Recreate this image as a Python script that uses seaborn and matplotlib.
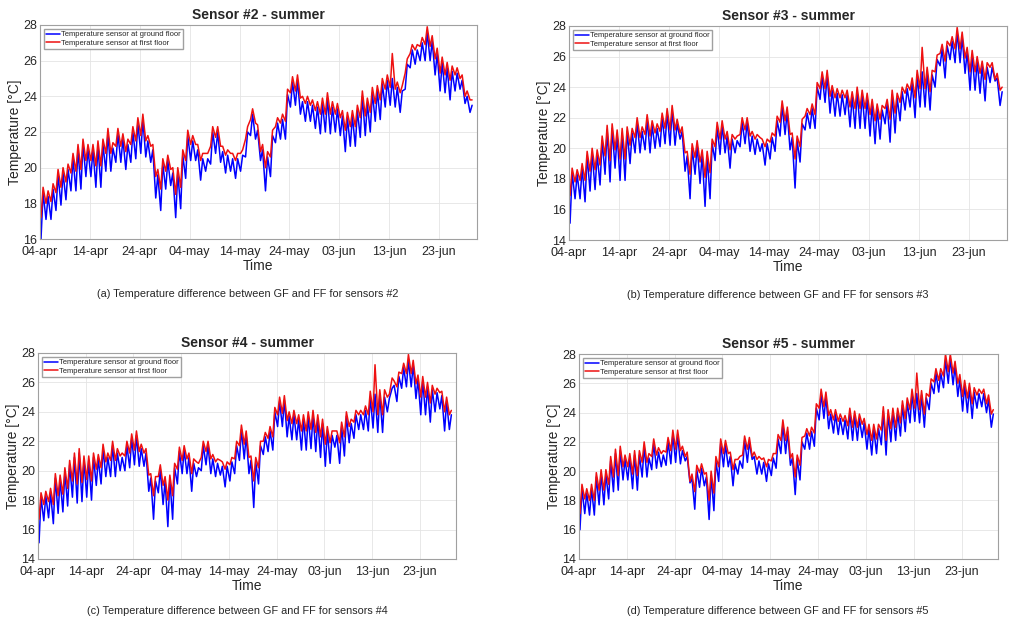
import pandas as pd
import matplotlib
matplotlib.use("Agg")
import matplotlib.pyplot as plt
import matplotlib.dates as mdates
import seaborn as sns

# INPUT VALUES
start_date = "2019-04-04"
tick_labels = ["04-apr", "14-apr", "24-apr", "04-may", "14-may", "24-may", "03-jun", "13-jun", "23-jun"]
series_names = ["Temperature sensor at ground floor", "Temperature sensor at first floor"]

# daily lows / highs, ground floor (gf) and first floor (ff)
s2_gf_lo = [16.0, 17.1, 17.1, 17.6, 17.9, 18.2, 18.7, 18.7, 18.8, 19.5,
            19.5, 18.9, 18.9, 19.8, 19.8, 20.3, 20.3, 19.9, 20.3, 20.5,
            20.8, 20.6, 20.3, 18.3, 17.6, 18.8, 19.0, 17.2, 17.7, 19.4,
            20.4, 20.4, 19.3, 19.8, 20.2, 20.8, 20.3, 19.7, 19.8, 19.4,
            19.8, 20.6, 21.8, 21.6, 20.4, 18.7, 19.5, 21.4, 21.6, 21.6,
            23.4, 23.5, 23.0, 22.6, 22.6, 22.2, 21.9, 22.0, 21.9, 22.0,
            21.8, 20.9, 21.2, 21.2, 21.7, 21.8, 22.0, 22.6, 22.7, 23.4,
            23.5, 23.4, 23.1, 24.4, 25.6, 25.8, 26.0, 26.0, 26.0, 25.2,
            24.3, 24.2, 23.8, 24.3, 24.4, 23.6, 23.1]
s2_gf_hi = [18.6, 18.4, 18.8, 19.6, 19.7, 19.9, 20.5, 21.0, 21.3, 21.0,
            21.0, 21.2, 21.3, 21.9, 21.1, 21.9, 21.6, 21.3, 22.0, 22.5,
            22.7, 21.5, 21.0, 19.6, 20.2, 20.4, 19.7, 19.7, 20.7, 21.8,
            21.5, 21.0, 20.5, 20.5, 22.0, 22.0, 20.9, 20.7, 20.5, 20.5,
            20.7, 22.0, 23.0, 22.1, 21.0, 20.6, 21.8, 22.5, 22.7, 24.1,
            24.8, 24.9, 23.7, 23.7, 23.5, 23.4, 23.6, 23.9, 23.4, 23.3,
            22.9, 22.8, 22.9, 23.2, 24.0, 23.6, 24.2, 24.3, 24.7, 24.9,
            25.0, 24.5, 24.3, 25.8, 26.6, 26.6, 27.0, 27.6, 27.1, 26.4,
            25.9, 25.6, 25.4, 25.3, 24.9, 24.0, 23.5]
s2_ff_lo = [17.2, 18.0, 18.1, 18.6, 18.9, 19.2, 19.7, 19.8, 19.9, 20.4,
            20.4, 20.1, 20.1, 20.8, 20.8, 21.2, 21.2, 20.9, 21.3, 21.5,
            21.8, 21.5, 21.2, 19.5, 18.8, 19.8, 19.9, 18.5, 18.9, 20.4,
            21.3, 21.3, 20.4, 20.8, 21.2, 21.7, 21.2, 20.7, 20.8, 20.4,
            20.8, 21.6, 22.7, 22.5, 20.9, 20.0, 20.6, 22.3, 22.5, 22.6,
            24.2, 24.3, 23.9, 23.6, 23.5, 23.2, 23.0, 23.0, 23.0, 23.0,
            22.8, 22.1, 22.3, 22.3, 22.8, 22.9, 23.1, 23.6, 23.8, 24.4,
            24.5, 24.4, 24.2, 25.3, 26.4, 26.6, 26.8, 26.9, 26.8, 26.1,
            25.3, 25.2, 24.9, 25.2, 25.0, 24.0, 23.8]
s2_ff_hi = [18.9, 18.7, 19.1, 19.9, 20.0, 20.2, 20.8, 21.3, 21.6, 21.3,
            21.3, 21.5, 21.6, 22.2, 21.4, 22.2, 21.9, 21.6, 22.3, 22.8,
            23.0, 21.8, 21.3, 19.9, 20.5, 20.7, 20.0, 20.0, 21.0, 22.1,
            21.8, 21.3, 20.8, 20.8, 22.3, 22.3, 21.2, 21.0, 20.8, 20.8,
            21.0, 22.3, 23.3, 22.4, 21.3, 20.9, 22.1, 22.8, 23.0, 24.4,
            25.1, 25.2, 24.0, 24.0, 23.8, 23.7, 23.9, 24.2, 23.7, 23.6,
            23.2, 23.1, 23.2, 23.5, 24.3, 23.9, 24.5, 24.6, 25.0, 25.2,
            26.4, 24.8, 24.6, 26.1, 26.9, 26.9, 27.3, 27.9, 27.4, 26.7,
            26.2, 25.9, 25.7, 25.6, 25.2, 24.3, 23.8]

s3_gf_lo = [15.1, 16.7, 16.7, 16.5, 17.2, 17.3, 17.6, 18.3, 17.8, 18.7,
            17.9, 17.9, 19.0, 19.7, 19.7, 19.9, 19.7, 20.0, 20.1, 20.3,
            20.2, 20.2, 20.6, 18.5, 16.7, 18.3, 17.7, 16.2, 16.7, 19.2,
            19.6, 19.7, 18.7, 19.7, 20.1, 20.3, 19.8, 19.6, 19.8, 18.9,
            19.3, 19.8, 20.8, 20.9, 19.9, 17.4, 19.1, 21.2, 21.3, 21.3,
            23.2, 23.0, 22.3, 22.1, 22.1, 22.2, 21.4, 21.3, 21.3, 21.3,
            20.8, 20.3, 20.6, 21.6, 20.4, 21.0, 21.8, 22.5, 22.7, 22.0,
            22.7, 22.7, 22.5, 24.0, 25.4, 24.6, 25.8, 25.6, 25.6, 24.9,
            23.8, 23.8, 23.6, 23.1, 24.3, 24.4, 22.8]
s3_gf_hi = [18.4, 18.3, 18.7, 19.5, 19.7, 19.6, 20.5, 21.2, 21.3, 20.9,
            21.0, 21.1, 21.0, 21.7, 21.1, 21.9, 21.5, 21.3, 22.0, 22.3,
            22.5, 21.6, 21.1, 19.5, 20.0, 20.2, 19.6, 19.5, 20.3, 21.4,
            21.5, 20.8, 20.6, 20.5, 21.7, 21.7, 20.8, 20.6, 20.3, 20.3,
            20.7, 21.8, 22.8, 22.4, 20.7, 20.5, 21.6, 22.3, 22.6, 24.0,
            24.7, 24.8, 23.8, 23.6, 23.5, 23.5, 23.4, 23.7, 23.5, 23.3,
            22.9, 22.6, 22.5, 22.9, 23.5, 23.3, 23.7, 23.9, 24.3, 24.8,
            25.0, 25.0, 24.8, 25.8, 26.5, 26.7, 27.0, 27.6, 27.3, 26.3,
            26.1, 25.7, 25.4, 25.3, 25.3, 24.6, 23.7]
s3_ff_lo = [16.9, 17.8, 17.9, 17.9, 18.5, 18.6, 18.9, 19.5, 19.2, 19.9,
            19.3, 19.3, 20.2, 20.7, 20.7, 20.9, 20.8, 21.0, 21.1, 21.3,
            21.2, 21.2, 21.0, 19.7, 18.3, 19.4, 19.1, 18.1, 18.4, 20.1,
            20.6, 20.6, 19.9, 20.6, 20.9, 21.2, 20.8, 20.6, 20.7, 20.1,
            20.4, 20.8, 21.7, 21.8, 20.9, 19.3, 20.1, 22.1, 22.2, 22.2,
            23.9, 23.9, 23.4, 23.3, 23.3, 23.3, 22.7, 22.6, 22.6, 22.6,
            22.2, 21.8, 21.9, 22.6, 21.9, 22.3, 23.0, 23.6, 23.8, 23.3,
            23.9, 23.9, 23.7, 25.0, 26.2, 25.7, 26.7, 26.5, 26.5, 25.9,
            25.0, 25.0, 24.9, 24.5, 25.3, 24.5, 23.8]
s3_ff_hi = [18.7, 18.6, 19.0, 19.8, 20.0, 19.9, 20.8, 21.5, 21.6, 21.2,
            21.3, 21.4, 21.3, 22.0, 21.4, 22.2, 21.8, 21.6, 22.3, 22.6,
            22.8, 21.9, 21.4, 19.8, 20.3, 20.5, 19.9, 19.8, 20.6, 21.7,
            21.8, 21.1, 20.9, 20.8, 22.0, 22.0, 21.1, 20.9, 20.6, 20.6,
            21.0, 22.1, 23.1, 22.7, 21.0, 20.8, 21.9, 22.6, 22.9, 24.3,
            25.0, 25.1, 24.1, 23.9, 23.8, 23.8, 23.7, 24.0, 23.8, 23.6,
            23.2, 22.9, 22.8, 23.2, 23.8, 23.6, 24.0, 24.2, 24.6, 25.1,
            26.6, 25.3, 25.1, 26.1, 26.8, 27.0, 27.3, 27.9, 27.6, 26.6,
            26.4, 26.0, 25.7, 25.6, 25.6, 24.9, 24.0]

s4_gf_lo = [15.1, 16.6, 16.8, 16.4, 17.1, 17.2, 17.6, 18.2, 17.8, 17.9,
            18.2, 18.0, 19.0, 19.1, 19.6, 19.6, 19.6, 20.0, 20.0, 20.2,
            20.4, 20.3, 20.3, 18.6, 16.7, 18.5, 17.7, 16.2, 16.7, 19.1,
            19.8, 19.8, 18.6, 19.6, 20.0, 20.4, 19.8, 19.6, 19.7, 18.9,
            19.3, 19.8, 20.7, 20.8, 19.8, 17.5, 19.1, 21.1, 21.3, 21.4,
            23.0, 23.0, 22.3, 22.1, 22.1, 21.4, 21.4, 21.5, 21.3, 20.9,
            20.3, 20.5, 21.6, 20.5, 21.0, 21.9, 22.2, 22.8, 22.8, 22.7,
            22.9, 22.6, 22.6, 24.0, 25.6, 24.7, 25.6, 25.7, 25.7, 24.9,
            23.8, 23.8, 23.3, 24.0, 24.2, 22.7, 22.8]
s4_gf_hi = [18.2, 18.3, 18.5, 19.5, 19.4, 19.9, 20.4, 20.9, 21.2, 20.7,
            20.7, 20.9, 20.8, 21.5, 20.9, 21.7, 21.2, 20.9, 21.7, 22.2,
            22.4, 21.5, 21.2, 19.5, 19.3, 20.1, 19.3, 19.4, 20.2, 21.3,
            21.4, 20.9, 20.5, 20.2, 21.7, 21.7, 20.8, 20.5, 20.3, 20.3,
            20.6, 21.7, 22.8, 22.4, 20.7, 20.6, 21.7, 22.3, 22.7, 24.0,
            24.7, 24.8, 23.7, 23.8, 23.5, 23.5, 23.7, 23.8, 23.5, 23.2,
            22.7, 22.4, 22.4, 23.0, 23.7, 23.2, 23.8, 23.8, 24.1, 25.0,
            25.2, 25.2, 25.0, 24.9, 25.8, 26.4, 27.0, 27.5, 27.2, 26.2,
            26.1, 25.7, 25.5, 25.3, 25.1, 24.7, 23.8]
s4_ff_lo = [16.7, 17.7, 17.9, 17.7, 18.3, 18.4, 18.8, 19.3, 19.1, 19.2,
            19.4, 19.3, 20.1, 20.2, 20.6, 20.7, 20.7, 21.0, 21.0, 21.2,
            21.4, 21.3, 21.2, 19.7, 18.3, 19.6, 19.0, 18.0, 18.3, 20.1,
            20.7, 20.8, 19.8, 20.6, 20.9, 21.3, 20.8, 20.6, 20.7, 20.1,
            20.4, 20.8, 21.7, 21.8, 20.9, 19.3, 20.2, 22.0, 22.2, 22.3,
            23.8, 23.9, 23.4, 23.2, 23.2, 22.7, 22.7, 22.8, 22.6, 22.3,
            21.8, 21.9, 22.7, 21.9, 22.3, 23.0, 23.3, 23.8, 23.8, 23.8,
            24.0, 23.8, 23.8, 25.0, 26.3, 25.7, 26.6, 26.6, 26.6, 25.9,
            25.0, 25.0, 24.6, 25.2, 25.3, 24.0, 23.8]
s4_ff_hi = [18.5, 18.6, 18.8, 19.8, 19.7, 20.2, 20.7, 21.2, 21.5, 21.0,
            21.0, 21.2, 21.1, 21.8, 21.2, 22.0, 21.5, 21.2, 22.0, 22.5,
            22.7, 21.8, 21.5, 19.8, 19.6, 20.4, 19.6, 19.7, 20.5, 21.6,
            21.7, 21.2, 20.8, 20.5, 22.0, 22.0, 21.1, 20.8, 20.6, 20.6,
            20.9, 22.0, 23.1, 22.7, 21.0, 20.9, 22.0, 22.6, 23.0, 24.3,
            25.0, 25.1, 24.0, 24.1, 23.8, 23.8, 24.0, 24.1, 23.8, 23.5,
            23.0, 22.7, 22.7, 23.3, 24.0, 23.5, 24.1, 24.1, 24.4, 25.4,
            27.2, 25.5, 25.5, 25.2, 26.1, 26.7, 27.3, 27.9, 27.5, 26.5,
            26.4, 26.0, 25.8, 25.6, 25.4, 25.0, 24.1]

s5_gf_lo = [16.0, 17.1, 17.0, 17.0, 17.7, 17.7, 18.1, 18.6, 18.7, 19.4,
            19.4, 18.8, 18.7, 19.6, 19.6, 20.1, 20.2, 20.3, 20.4, 20.5,
            20.6, 20.5, 20.7, 19.2, 17.4, 18.9, 19.0, 16.7, 17.3, 19.3,
            20.3, 20.3, 19.0, 19.8, 20.2, 20.6, 20.8, 19.8, 19.8, 19.3,
            19.7, 20.2, 21.2, 21.2, 20.4, 18.4, 19.4, 21.5, 21.5, 21.7,
            23.5, 23.6, 22.9, 22.6, 22.5, 22.5, 22.2, 22.1, 22.1, 22.3,
            21.5, 21.1, 21.2, 21.8, 21.1, 22.0, 22.1, 22.4, 22.7, 23.3,
            23.4, 23.3, 23.0, 24.2, 25.3, 25.4, 25.7, 26.0, 25.9, 25.1,
            24.1, 24.0, 23.6, 24.3, 24.4, 24.0, 23.0]
s5_gf_hi = [18.8, 18.5, 18.8, 19.6, 19.8, 19.8, 20.7, 21.2, 21.4, 20.8,
            20.9, 21.1, 21.1, 21.7, 20.9, 21.9, 21.3, 21.1, 22.0, 22.5,
            22.5, 21.4, 21.0, 19.5, 20.1, 20.2, 19.6, 19.7, 20.7, 21.9,
            21.8, 21.0, 20.5, 20.7, 22.1, 22.0, 21.0, 20.7, 20.6, 20.5,
            20.9, 22.2, 23.2, 22.7, 20.9, 20.8, 22.0, 22.6, 22.7, 24.3,
            25.3, 25.1, 23.9, 23.9, 23.6, 23.5, 24.0, 23.8, 23.6, 23.3,
            22.9, 22.9, 22.9, 24.1, 23.9, 24.0, 24.0, 24.5, 24.7, 25.3,
            25.3, 25.2, 25.0, 26.0, 26.7, 26.7, 27.6, 27.7, 27.2, 26.3,
            25.9, 25.7, 25.4, 25.3, 25.3, 24.9, 23.9]
s5_ff_lo = [17.1, 18.1, 18.0, 18.0, 18.7, 18.7, 19.1, 19.6, 19.7, 20.3,
            20.3, 19.8, 19.7, 20.6, 20.6, 21.0, 21.1, 21.2, 21.3, 21.4,
            21.5, 21.4, 21.0, 19.3, 18.6, 19.9, 19.8, 18.0, 18.5, 20.3,
            21.2, 21.2, 20.1, 20.8, 21.1, 21.5, 21.0, 20.8, 20.8, 20.3,
            20.7, 21.2, 22.1, 22.1, 20.9, 19.6, 20.4, 22.4, 22.4, 22.6,
            24.3, 24.4, 23.8, 23.5, 23.4, 23.4, 23.1, 23.0, 23.0, 23.2,
            22.5, 22.1, 22.2, 22.8, 22.1, 22.9, 23.0, 23.3, 23.6, 24.2,
            24.3, 24.2, 23.9, 25.1, 26.1, 26.2, 26.5, 26.8, 26.7, 26.0,
            25.1, 25.0, 24.6, 25.2, 25.3, 24.6, 23.9]
s5_ff_hi = [19.1, 18.8, 19.1, 19.9, 20.1, 20.1, 21.0, 21.5, 21.7, 21.1,
            21.2, 21.4, 21.4, 22.0, 21.2, 22.2, 21.6, 21.4, 22.3, 22.8,
            22.8, 21.7, 21.3, 19.8, 20.4, 20.5, 19.9, 20.0, 21.0, 22.2,
            22.1, 21.3, 20.8, 21.0, 22.4, 22.3, 21.3, 21.0, 20.9, 20.8,
            21.2, 22.5, 23.5, 23.0, 21.2, 21.1, 22.3, 22.9, 23.0, 24.6,
            25.6, 25.4, 24.2, 24.2, 23.9, 23.8, 24.3, 24.1, 23.9, 23.6,
            23.2, 23.2, 23.2, 24.4, 24.2, 24.3, 24.3, 24.8, 25.0, 25.6,
            26.7, 25.5, 25.3, 26.3, 27.0, 27.0, 28.0, 28.0, 27.5, 26.6,
            26.2, 26.0, 25.7, 25.6, 25.6, 25.2, 24.2]


def build_frame(gf_lo, gf_hi, ff_lo, ff_hi):
    t0 = pd.Timestamp(start_date)
    rows = []
    for name, lo, hi in [(series_names[0], gf_lo, gf_hi), (series_names[1], ff_lo, ff_hi)]:
        for k, v in enumerate(lo):
            rows.append((t0 + pd.Timedelta(hours=24 * k + 5), v, name))
        for k, v in enumerate(hi):
            rows.append((t0 + pd.Timedelta(hours=24 * k + 15), v, name))
    return pd.DataFrame(rows, columns=["time", "temp", "sensor"]).sort_values("time")


panels = [
    ("Sensor #2 - summer", "(a) Temperature difference between GF and FF for sensors #2", 16,
     build_frame(s2_gf_lo, s2_gf_hi, s2_ff_lo, s2_ff_hi), [0.0393, 0.6145, 0.4297, 0.3452], (0.244, 0.526)),
    ("Sensor #3 - summer", "(b) Temperature difference between GF and FF for sensors #3", 14,
     build_frame(s3_gf_lo, s3_gf_hi, s3_ff_lo, s3_ff_hi), [0.5595, 0.6129, 0.4307, 0.3452], (0.765, 0.524)),
    ("Sensor #4 - summer", "(c) Temperature difference between GF and FF for sensors #4", 14,
     build_frame(s4_gf_lo, s4_gf_hi, s4_ff_lo, s4_ff_hi), [0.0374, 0.0984, 0.4110, 0.3323], (0.233, 0.0145)),
    ("Sensor #5 - summer", "(d) Temperature difference between GF and FF for sensors #5", 14,
     build_frame(s5_gf_lo, s5_gf_hi, s5_ff_lo, s5_ff_hi), [0.5693, 0.0984, 0.4120, 0.3306], (0.765, 0.0145)),
]

sns.set_style("whitegrid")
plt.rcParams["font.family"] = ["Liberation Sans", "DejaVu Sans"]

fig = plt.figure(figsize=(10.17, 6.2), dpi=100)
t0 = pd.Timestamp(start_date)
tick_pos = mdates.date2num([t0 + pd.Timedelta(days=10 * i) for i in range(len(tick_labels))])

for title, caption, ymin, df, rect, cap_xy in panels:
    ax = fig.add_axes(rect)
    sns.lineplot(data=df, x="time", y="temp", hue="sensor", hue_order=series_names,
                 palette=["#0000ff", "#ee1111"], estimator=None, linewidth=1.1,
                 legend=False, ax=ax)
    ax.set_xlim(mdates.date2num(t0), mdates.date2num(t0 + pd.Timedelta(days=87.6)))
    ax.set_xticks(tick_pos)
    ax.set_xticklabels(tick_labels)
    ax.set_ylim(ymin, 28)
    ax.set_yticks(range(ymin, 29, 2))
    ax.grid(True, color="#e4e4e4", linewidth=0.6)
    for sp in ax.spines.values():
        sp.set_color("#a0a0a0")
        sp.set_linewidth(0.8)
    ax.tick_params(labelsize=9, direction="in", length=2, color="#a0a0a0")
    ax.tick_params(axis="x", pad=5)
    ax.tick_params(axis="y", pad=2)
    ax.set_xlabel("Time", fontsize=10, labelpad=1)
    ax.set_ylabel("Temperature [°C]", fontsize=10, labelpad=1)
    ax.set_title(title, fontsize=10, fontweight="bold", pad=4)
    ax.legend(ax.lines[:2], series_names, loc="upper left", fontsize=5.5, frameon=True,
              fancybox=False, framealpha=1, edgecolor="#a0a0a0", borderpad=0.3,
              handlelength=1.8, handletextpad=0.2, labelspacing=0.15, borderaxespad=0.5)
    fig.text(cap_xy[0], cap_xy[1], caption, fontsize=7.8, ha="center", va="center")

fig.savefig("out.png", dpi=100)
